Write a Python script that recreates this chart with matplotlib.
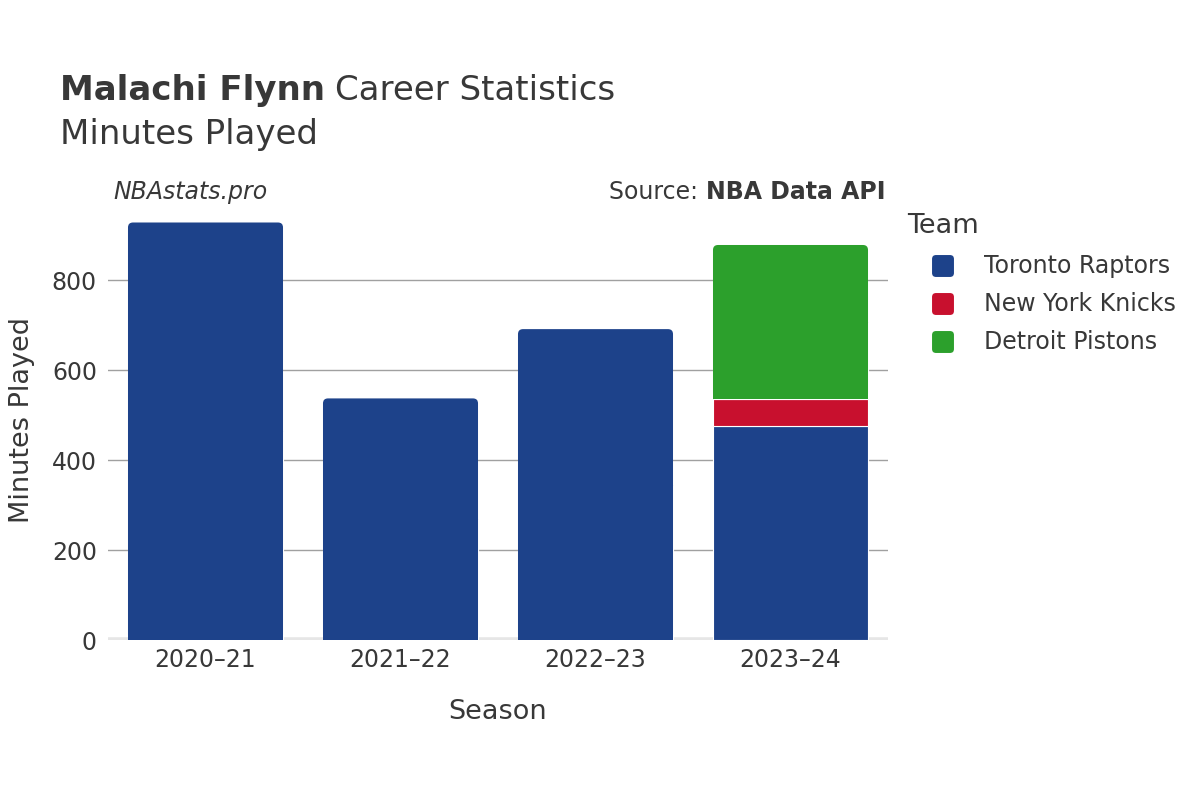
import matplotlib
matplotlib.use("Agg")
import matplotlib.pyplot as plt
from matplotlib.patches import FancyBboxPatch

seasons = ["2020–21", "2021–22", "2022–23", "2023–24"]
teams = ["Toronto Raptors", "New York Knicks", "Detroit Pistons"]
colors = ["#1d428a", "#c8102e", "#2ca02c"]
toronto = [928, 537, 691, 476]
knicks = [0, 0, 0, 60]
detroit = [0, 0, 0, 342]
y_ticks = [0, 200, 400, 600, 800]

text_c = "#383838"
W, H = 1200, 800
fig = plt.figure(figsize=(12, 8), dpi=100)
ax = fig.add_axes([0.09, 0.2, 0.65, 0.55])
ax.set_xlim(-0.5, 3.5)
ax.set_ylim(0, 978)

series = [toronto, knicks, detroit]
width = 0.795
# px -> data units for rounded corners
x_per_px = 4 / 780
y_per_px = 978 / 440
r = 5 * x_per_px
aspect = y_per_px / x_per_px

bottoms = [0] * len(seasons)
tops = []
for i in range(len(seasons)):
    tops.append(max(k for k in range(3) if series[k][i] > 0))

for k, vals in enumerate(series):
    for i, v in enumerate(vals):
        if v <= 0:
            continue
        b = bottoms[i]
        if tops[i] == k:
            # rounded top segment
            ax.bar(i, v / 2, bottom=b, width=width, color=colors[k],
                   edgecolor="white", linewidth=0.8, zorder=3)
            p = FancyBboxPatch((i - width / 2 + r, b + r * aspect),
                               width - 2 * r, v - 2 * r * aspect,
                               boxstyle=f"round,pad={r},rounding_size={r}",
                               mutation_aspect=aspect, facecolor=colors[k],
                               edgecolor="none", zorder=3)
            ax.add_patch(p)
            ax.bar(i, v / 2, bottom=b, width=width, color=colors[k],
                   edgecolor="none", linewidth=0, zorder=3.5)
        else:
            ax.bar(i, v, bottom=b, width=width, color=colors[k],
                   edgecolor="white", linewidth=0.8, zorder=3)
        bottoms[i] += v

ax.set_yticks(y_ticks)
ax.set_xticks(range(len(seasons)))
ax.set_xticklabels(seasons)
ax.tick_params(axis="both", length=0, labelsize=17, colors=text_c, pad=8)
ax.tick_params(axis="x", pad=6)
ax.grid(axis="y", color="#a0a0a0", linewidth=1, zorder=0)
ax.set_axisbelow(True)
for s in ax.spines.values():
    s.set_visible(False)
ax.axhline(0, color="#e6e6e6", linewidth=4, zorder=2)

ax.set_xlabel("Season", fontsize=19.5, color=text_c, labelpad=19)
ax.set_ylabel("Minutes Played", fontsize=19.5, color=text_c, labelpad=12)

# titles
t1 = fig.text(0.05, 1 - 100 / H, "Malachi Flynn", fontsize=24.5, fontweight="bold",
              color=text_c, va="baseline")
fig.canvas.draw()
bb = t1.get_window_extent()
fig.text(bb.x1 / W + 0.008, 1 - 100 / H, "Career Statistics", fontsize=24.5,
         color=text_c, va="baseline")
fig.text(0.05, 1 - 144 / H, "Minutes Played", fontsize=24.5, color=text_c,
         va="baseline")

fig.text(113 / W, 1 - 192 / H, "NBAstats.pro", fontsize=17, style="italic",
         color=text_c, va="center")
src_b = fig.text(885 / W, 1 - 192 / H, "NBA Data API", fontsize=17,
                 fontweight="bold", color=text_c, va="center", ha="right")
fig.canvas.draw()
sb = src_b.get_window_extent()
fig.text(sb.x0 / W, 1 - 192 / H, "Source: ", fontsize=17, color=text_c,
         va="center", ha="right")

# legend drawn by hand
fig.text(907 / W, 1 - 226 / H, "Team", fontsize=19.5, color=text_c, va="center")
sq = 22
for j, (name, c) in enumerate(zip(teams, colors)):
    cy = 266 + 38 * j
    fig.patches.append(FancyBboxPatch(
        ((932 + 4) / W, (H - cy - sq / 2 + 4) / H), (sq - 8) / W, (sq - 8) / H,
        boxstyle="round,pad=0.0033,rounding_size=0.0033",
        mutation_aspect=W / H, facecolor=c, edgecolor="none",
        transform=fig.transFigure, figure=fig))
    fig.text(984 / W, 1 - cy / H, name, fontsize=17, color=text_c, va="center")

fig.savefig("out.png", dpi=100, facecolor="white")
